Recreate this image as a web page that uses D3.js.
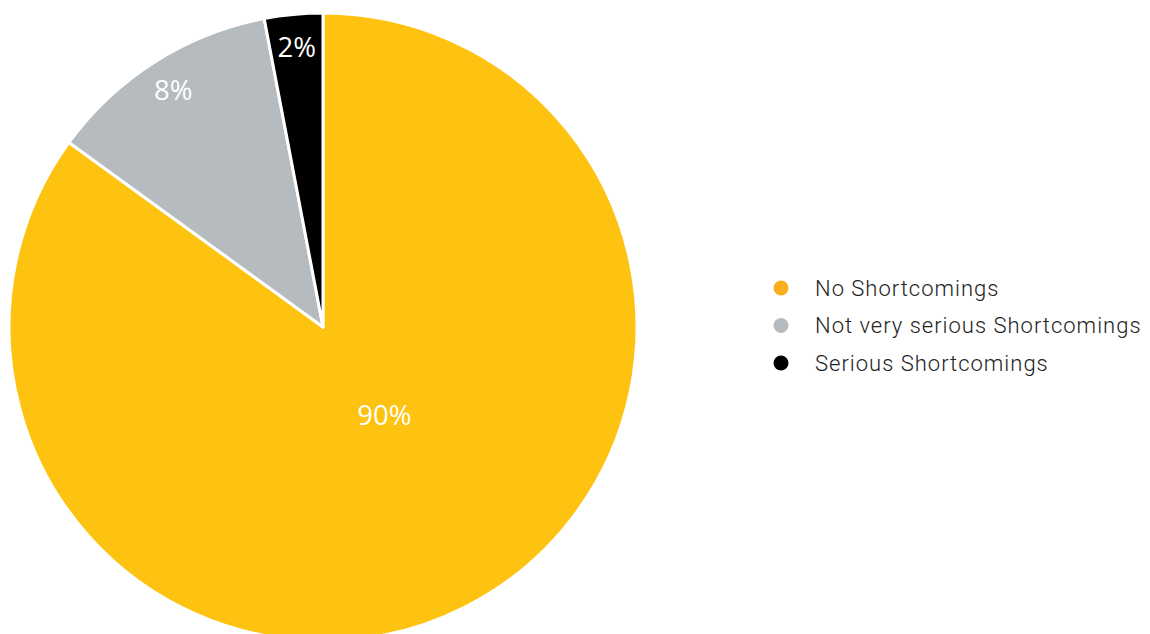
<!DOCTYPE html>
<meta charset="utf-8">
<script src="https://d3js.org/d3.v7.min.js"></script>
<style>
  body { margin: 0; background: #fff; }
</style>
<svg id="chart" width="1150" height="634"></svg>
<script>

  // slice shares as drawn, the printed labels, and legend names
  var categories = ["No Shortcomings", "Not very serious Shortcomings", "Serious Shortcomings"];
  var shares = [85, 12, 3];
  var labels = ["90%", "8%", "2%"];
  var colors = ["#FEC210", "#B5BBBE", "#000000"];
  var legendColors = ["#F9AE1E", "#B5BBBE", "#000000"];

  var svg = d3.select("#chart");

  var cx = 323, cy = 327, radius = 314;

  var pie = d3.pie().sort(null).value(function (d) { return d; });
  var arcs = pie(shares);

  var arc = d3.arc().innerRadius(0).outerRadius(radius);
  var labelArcOuter = d3.arc().innerRadius(radius * 0.89).outerRadius(radius * 0.89);
  var labelArcInner = d3.arc().innerRadius(radius * 0.34).outerRadius(radius * 0.34);

  var g = svg.append("g").attr("transform", "translate(" + cx + "," + cy + ")");

  // slices
  g.selectAll("path")
    .data(arcs)
    .enter()
    .append("path")
    .attr("d", arc)
    .attr("fill", function (d, i) { return colors[i]; })
    .attr("stroke", "#fff")
    .attr("stroke-width", 3)
    .attr("stroke-linejoin", "round");

  // percentage labels
  g.selectAll("text")
    .data(arcs)
    .enter()
    .append("text")
    .attr("transform", function (d, i) {
      var p = (i === 0 ? labelArcInner : labelArcOuter).centroid(d);
      if (i === 0) { p[0] += 13; p[1] -= 7; } else { p[1] -= 1; }
      return "translate(" + p + ")";
    })
    .attr("text-anchor", "middle")
    .attr("dy", "0.35em")
    .style("font-family", "'Open Sans', sans-serif")
    .style("font-size", "27.5px")
    .attr("fill", "#fff")
    .text(function (d, i) { return labels[i]; });

  // legend
  var legend = svg.append("g").attr("transform", "translate(781,288)");
  var item = legend.selectAll("g")
    .data(categories)
    .enter()
    .append("g")
    .attr("transform", function (d, i) { return "translate(0," + i * 37.5 + ")"; });

  item.append("circle")
    .attr("r", 7.5)
    .attr("fill", function (d, i) { return legendColors[i]; });

  item.append("text")
    .attr("x", 34)
    .attr("dy", "0.35em")
    .style("font-family", "Roboto, sans-serif")
    .style("font-weight", 300)
    .style("font-size", "22px")
    .style("letter-spacing", "1px")
    .attr("fill", "#222")
    .text(function (d) { return d; });

</script>
